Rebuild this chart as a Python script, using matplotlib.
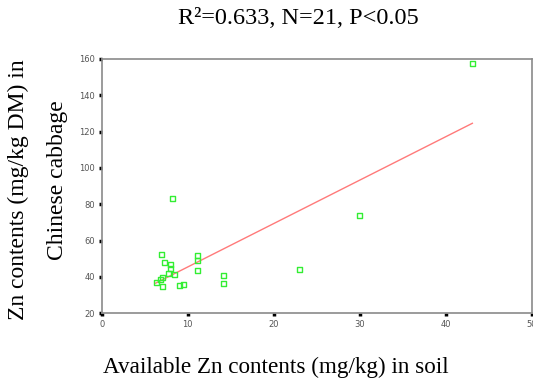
import matplotlib
matplotlib.use("Agg")
import matplotlib.pyplot as plt
import numpy as np

# Data
soil_zn = [6.4, 6.8, 7.0, 7.1, 7.1, 7.3, 7.8, 8.0, 8.0, 8.2, 8.5, 9.0, 9.5,
           11.1, 11.1, 11.1, 14.2, 14.2, 23.0, 30.0, 43.1]
cabbage_zn = [37.1, 38.5, 52.1, 39.9, 35.0, 48.1, 41.7, 47.0, 44.6, 83.3, 41.5,
              35.2, 35.6, 51.6, 49.0, 43.5, 40.7, 36.2, 44.0, 73.8, 157.4]
fit_slope = 2.39
fit_intercept = 21.6
fit_x_range = [6.27, 43.1]
x_ticks = [0, 10, 20, 30, 40, 50]
y_ticks = [20, 40, 60, 80, 100, 120, 140, 160]

W, H = 533, 383
fig = plt.figure(figsize=(W / 100, H / 100), dpi=100)
left, right = 101.7 / W, 531.7 / W
bottom, top = (H - 313.3) / H, (H - 59) / H
ax = fig.add_axes([left, bottom, right - left, top - bottom])

ax.scatter(soil_zn, cabbage_zn, marker='s', s=13, facecolors='none',
           edgecolors='#33ee33', linewidths=1.0, zorder=3)
fx = np.array(fit_x_range)
ax.plot(fx, fit_intercept + fit_slope * fx, color='#ff7a7a', lw=1.0, zorder=2)

ax.set_xlim(0, 50)
ax.set_ylim(20, 160)
ax.set_xticks(x_ticks)
ax.set_yticks(y_ticks)
ax.set_xticklabels([str(t) for t in x_ticks])
ax.set_yticklabels([str(t) for t in y_ticks])
ax.tick_params(axis='both', direction='out', length=2, width=2.5, color='black',
               labelsize=6, labelcolor='#555555', pad=3)
for s in ax.spines.values():
    s.set_color('#8a8a8a')
    s.set_linewidth(1.2)
ax.set_facecolor('white')

serif = ['Liberation Serif', 'DejaVu Serif']
fig.text(298 / W, 1 - 18 / H, 'R\u00b2=0.633, N=21, P<0.05', ha='center', va='center',
         fontsize=17.5, family=serif)
fig.text(276 / W, 1 - 367 / H, 'Available Zn contents (mg/kg) in soil', ha='center',
         va='center', fontsize=16.7, family=serif)
fig.text(18 / W, 1 - 190 / H, 'Zn contents (mg/kg DM) in', ha='center', va='center',
         rotation=90, fontsize=17, family=serif)
fig.text(57 / W, 1 - 180 / H, 'Chinese cabbage', ha='center', va='center',
         rotation=90, fontsize=17, family=serif)

fig.savefig('out.png', dpi=100)
